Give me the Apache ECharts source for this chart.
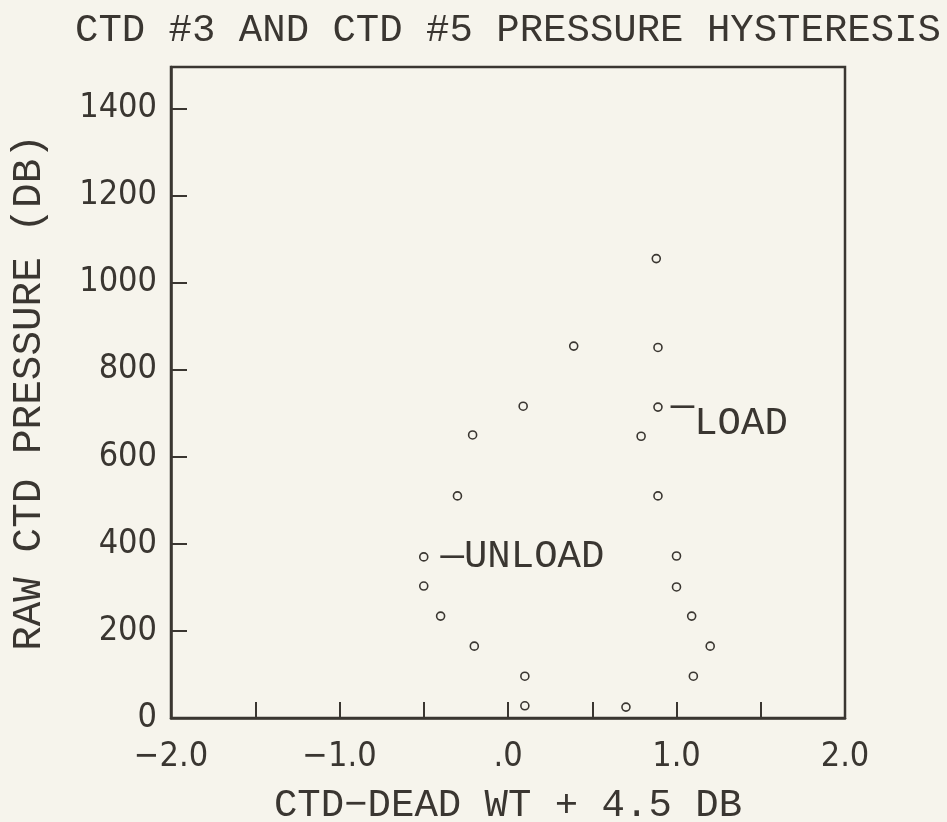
<!DOCTYPE html>
<html><head><meta charset="utf-8">
<script src="https://cdn.jsdelivr.net/npm/echarts@6/dist/echarts.min.js"></script>
<style>html,body{margin:0;padding:0;background:#f6f4ec;} #c{width:947px;height:822px;}</style>
</head><body><div id="c"></div>
<script>
const titleText = 'CTD #3 AND CTD #5 PRESSURE HYSTERESIS';
const xAxisTitle = 'CTD\u2212DEAD WT + 4.5 DB';
const yAxisTitle = 'RAW CTD PRESSURE (DB)';
const loadLabelText = 'LOAD';
const unloadLabelText = 'UNLOAD';
const loadX = [0.88, 0.89, 0.89, 0.79, 0.89, 1.00, 1.00, 1.09, 1.20, 1.10, 0.70];
const loadY = [1055, 851, 714, 647, 510, 372, 301, 234, 165, 96, 25];
const unloadX = [0.39, 0.09, -0.21, -0.30, -0.50, -0.50, -0.40, -0.20, 0.10, 0.10];
const unloadY = [854, 716, 650, 510, 370, 303, 234, 165, 96, 28];
const xLabelValues = [-2, -1, 0, 1, 2];
const xLabelText = ['\u22122.0', '\u22121.0', '.0', '1.0', '2.0'];
const yLabelValues = [0, 200, 400, 600, 800, 1000, 1200, 1400];
const yLabelText = ['0', '200', '400', '600', '800', '1000', '1200', '1400'];
const loadLabelIndex = 2;
const unloadLabelIndex = 4;

const ink = '#3a3631';
const bg = '#f6f4ec';
const monoFont = "'Liberation Mono', 'DejaVu Sans Mono', monospace";
const tickFont = "'DejaVu Sans Condensed', 'DejaVu Sans', sans-serif";

function lookup(vals, texts, v) {
  for (let i = 0; i < vals.length; i++) if (Math.abs(vals[i] - v) < 1e-9) return texts[i];
  return '';
}

function makeData(xs, ys, idx, text, padTop, dist) {
  return xs.map((x, i) => {
    const item = { value: [x, ys[i]] };
    if (i === idx) {
      item.label = {
        show: true, position: 'right', distance: dist, color: ink, opacity: 1,
        fontFamily: monoFont, fontSize: 39,
        formatter: '{d|\u2014}{t|' + text + '}',
        rich: {
          d: { fontFamily: monoFont, fontSize: 39, color: ink, opacity: 1, verticalAlign: 'middle' },
          t: { fontFamily: monoFont, fontSize: 39, color: ink, opacity: 1, verticalAlign: 'middle', padding: [padTop, 0, 0, 0] }
        }
      };
    }
    return item;
  });
}

const chart = echarts.init(document.getElementById('c'), null, { renderer: 'canvas' });
const option = {
  backgroundColor: bg,
  animation: false,
  title: {
    text: titleText, left: 70, top: 6,
    textStyle: { fontFamily: monoFont, fontSize: 39, fontWeight: 'normal', color: ink }
  },
  grid: {
    left: 171, right: 102, top: 67, bottom: 104, show: true,
    borderColor: ink, borderWidth: 2.5, containLabel: false, outerBoundsMode: 'none'
  },
  xAxis: {
    type: 'value', min: -2, max: 2, interval: 0.5,
    splitLine: { show: false },
    axisLine: { onZero: false, lineStyle: { color: ink, width: 2.5 } },
    axisTick: { inside: true, length: 16, lineStyle: { color: ink, width: 2 } },
    axisLabel: {
      formatter: v => lookup(xLabelValues, xLabelText, v),
      fontFamily: tickFont, fontSize: 34, color: ink, margin: 22
    },
    name: xAxisTitle, nameLocation: 'middle', nameGap: 68,
    nameTextStyle: { fontFamily: monoFont, fontSize: 39, color: ink }
  },
  yAxis: {
    type: 'value', min: 0, max: 1495, interval: 200,
    splitLine: { show: false },
    axisLine: { onZero: false, lineStyle: { color: ink, width: 2.5 } },
    axisTick: { inside: true, length: 16, lineStyle: { color: ink, width: 2 } },
    axisLabel: {
      formatter: v => lookup(yLabelValues, yLabelText, v),
      fontFamily: tickFont, fontSize: 34, color: ink, margin: 14
    },
    name: yAxisTitle, nameLocation: 'middle', nameGap: 121,
    nameTextStyle: { fontFamily: monoFont, fontSize: 41, color: ink }
  },
  series: [
    {
      name: loadLabelText, type: 'scatter', symbol: 'circle', symbolSize: 8,
      itemStyle: { color: bg, borderColor: ink, borderWidth: 1.6, opacity: 1 },
      emphasis: { disabled: true },
      data: makeData(loadX, loadY, loadLabelIndex, loadLabelText, 34, 8)
    },
    {
      name: unloadLabelText, type: 'scatter', symbol: 'circle', symbolSize: 8,
      itemStyle: { color: bg, borderColor: ink, borderWidth: 1.6, opacity: 1 },
      emphasis: { disabled: true },
      data: makeData(unloadX, unloadY, unloadLabelIndex, unloadLabelText, 0, 12)
    }
  ]
};
chart.setOption(option);
</script>
</body></html>
